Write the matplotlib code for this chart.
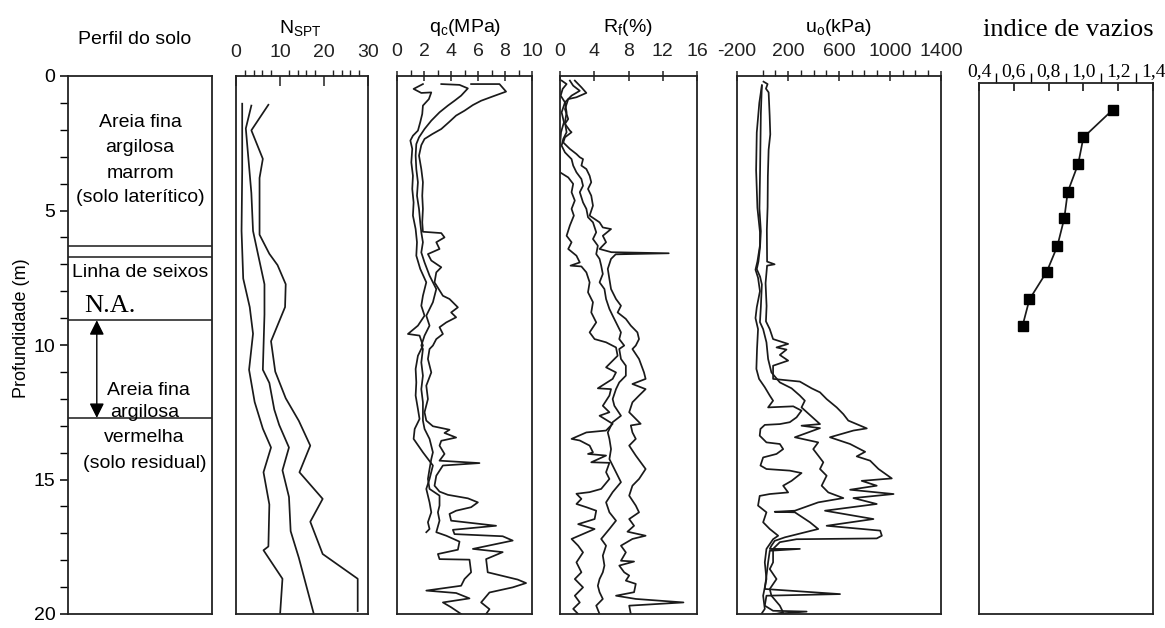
import matplotlib
matplotlib.use('Agg')
import matplotlib.pyplot as plt

plt.rcParams['font.family'] = ['Liberation Sans', 'DejaVu Sans']
plt.rcParams['mathtext.fontset'] = 'custom'
plt.rcParams['mathtext.rm'] = 'Liberation Sans'
plt.rcParams['mathtext.it'] = 'Liberation Sans:italic'
plt.rcParams['mathtext.bf'] = 'Liberation Sans:bold'

# ---------------- data ----------------
# soil profile
layer_depths = [6.33, 6.74, 9.08, 12.71]
wt_arrow = (9.08, 12.71)
upper_lines = ["Areia fina", "argilosa", "marrom", "(solo laterítico)"]
upper_depths = [1.72, 2.67, 3.62, 4.52]
lower_lines = ["Areia fina", "argilosa", "vermelha", "(solo residual)"]
lower_depths = [11.68, 12.5, 13.45, 14.4]

# N_SPT (3 profiles)
nspt1_d = [1.03, 3.50, 5.76, 7.53, 8.59, 9.58, 10.92, 12.12, 13.11, 13.81, 14.73, 15.93, 17.49, 17.63, 18.69, 19.96]
nspt1_v = [1.41, 1.41, 1.26, 1.64, 3.12, 3.87, 2.97, 4.24, 6.10, 7.96, 6.25, 7.58, 7.36, 6.25, 10.56, 10.04]
nspt2_d = [1.10, 1.95, 2.94, 4.35, 5.76, 6.61, 7.74, 8.87, 10.92, 11.41, 12.40, 12.97, 13.81, 14.66, 15.65, 16.92, 17.91, 19.96]
nspt2_v = [3.49, 2.23, 2.75, 3.49, 3.87, 4.98, 6.47, 6.47, 6.10, 7.58, 8.70, 9.81, 12.04, 10.56, 12.04, 12.42, 14.28, 17.62]
nspt3_d = [1.07, 2.02, 3.08, 3.79, 5.90, 6.61, 7.03, 7.74, 8.59, 9.86, 10.99, 11.98, 12.82, 13.74, 14.73, 15.72, 16.57, 17.77, 18.69, 19.89]
nspt3_v = [7.36, 3.49, 6.10, 5.35, 5.35, 7.58, 9.44, 11.30, 11.15, 7.96, 8.92, 11.30, 14.28, 16.88, 14.42, 19.70, 16.88, 19.70, 27.66, 27.66]

# qc (MPa)
qc1_d = [0.30, 0.48, 0.63, 0.61, 0.86, 1.10, 1.41, 1.72, 2.03, 2.22, 2.40, 2.71, 3.21, 3.71, 4.20, 4.70, 5.19, 5.69, 6.18, 6.68,
         7.17, 7.67, 8.17, 8.54, 8.91, 9.28, 9.59, 9.65, 10.02, 10.40, 10.89, 11.39, 11.88, 12.38, 12.75, 13.12, 13.49, 13.99,
         14.48, 14.98, 15.35, 15.85, 16.22, 16.59, 16.84, 16.96]
qc1_v = [1.92, 1.23, 1.80, 2.54, 2.36, 1.92, 1.87, 1.72, 1.55, 1.18, 0.99, 1.13, 1.06, 1.18, 1.13, 1.23, 1.18, 1.38, 1.48, 1.43,
         1.72, 2.17, 1.92, 1.80, 2.04, 1.55, 0.81, 1.67, 1.92, 1.55, 1.38, 1.43, 1.38, 1.55, 1.67, 1.31, 1.23, 1.92,
         2.66, 2.41, 2.17, 2.41, 2.54, 2.29, 2.41, 2.17]
qc2_d = [0.30, 0.33, 0.46, 0.73, 0.92, 1.10, 1.35, 1.66, 1.97, 2.28, 2.53, 2.96, 3.46, 3.95, 4.45, 4.94, 5.44, 5.81, 6.18, 6.56,
         6.93, 7.42, 7.92, 8.41, 8.91, 9.28, 9.65, 10.02, 10.15, 10.65, 11.14, 11.64, 12.13, 12.81, 13.12, 13.49, 13.99, 14.24,
         14.61, 14.98, 15.35, 15.60, 15.97, 16.22, 16.53, 16.96, 17.09, 17.31, 17.61, 17.77, 17.96, 17.98, 18.45, 18.70, 18.95,
         19.13, 19.22, 19.42, 19.57, 19.75, 20.0]
qc2_v = [3.28, 4.63, 5.25, 4.75, 4.26, 3.77, 3.15, 2.54, 2.04, 1.63, 1.43, 1.38, 1.43, 1.55, 1.48, 1.63, 1.72, 1.80, 1.92, 1.80,
         2.04, 2.41, 2.91, 2.66, 2.17, 2.41, 2.04, 1.80, 1.92, 1.80, 1.92, 1.80, 1.92, 1.92, 2.04, 2.41, 2.66, 2.54,
         2.41, 2.29, 2.41, 3.15, 3.15, 3.03, 3.15, 2.91, 3.65, 4.63, 4.51, 3.03, 3.15, 5.37, 5.49, 5.00, 4.75,
         2.17, 4.38, 5.37, 3.40, 4.01, 4.75]
qc3_d = [0.30, 0.30, 0.58, 0.76, 0.92, 1.08, 1.29, 1.47, 1.72, 1.97, 2.16, 2.34, 2.57, 2.96, 3.46, 3.95, 4.45, 4.94, 5.44, 5.79,
         5.84, 6.00, 6.18, 6.43, 6.62, 6.86, 7.11, 7.30, 7.67, 8.17, 8.29, 8.60, 8.79, 8.97, 9.16, 9.34, 9.59, 9.78, 10.02,
         10.15, 10.52, 11.02, 11.51, 12.01, 12.50,
         12.81, 13.02, 13.15, 13.27, 13.44, 13.56, 13.74, 14.05, 14.30, 14.39, 14.48, 14.86, 15.23, 15.45, 15.57, 15.70, 15.85,
         16.03, 16.16, 16.28, 16.53,
         16.72, 16.87, 17.03, 17.11, 17.27, 17.58, 17.70, 17.96, 18.45, 18.72, 18.85, 19.01, 19.20, 19.57, 19.82, 20.0]
qc3_v = [5.49, 7.59, 8.08, 7.09, 6.23, 5.62, 5.00, 4.38, 3.84, 3.28, 2.61, 2.04, 1.80, 1.63, 1.80, 1.92, 1.87, 1.92, 1.87, 1.92,
         3.28, 3.52, 2.91, 3.15, 2.29, 2.54, 3.28, 2.91, 2.78, 3.40, 3.89, 4.51, 4.01, 4.38, 3.65, 3.15, 3.40, 2.91, 2.66,
         2.41, 2.29, 2.54, 2.17, 2.29, 2.04,
         2.17, 2.66, 3.89, 3.52, 4.38, 3.28, 3.15, 3.52, 3.15, 6.11, 3.40, 2.91, 2.78, 3.15, 3.77, 5.25, 5.99,
         5.49, 4.38, 3.89, 4.01,
         7.34, 4.14, 4.26, 7.83, 8.57, 5.62, 7.83, 6.60, 6.72, 8.94, 9.56, 8.57, 6.85, 6.23, 6.85, 6.60]

# Rf (%)
rf1_d = [0.17, 0.30, 0.48, 0.73, 0.98, 1.35, 1.72, 2.09, 2.59, 3.58, 3.77, 4.01, 4.32, 4.63, 4.94, 5.19, 5.56, 5.94, 6.18, 6.43,
         6.68, 6.93, 7.05, 7.08, 7.30, 7.67, 8.04, 8.41, 8.79, 9.16, 9.53, 9.78, 9.90, 10.09, 10.40, 10.83, 11.02, 11.26,
         11.61, 11.64, 11.88, 12.26, 12.50, 12.63, 12.93, 13.18, 13.25, 13.49, 13.55, 13.74, 13.99, 14.05, 14.11, 14.36,
         14.38, 14.73, 14.98, 15.35, 15.47, 15.53, 15.72, 15.91, 16.03, 16.16, 16.47, 16.66, 16.84, 17.21, 17.46, 17.71,
         18.08, 18.45, 18.70, 19.01, 19.32, 19.57, 19.81, 20.0]
rf1_v = [0.19, 0.77, 0.31, 0.08, 0.58, 0.19, 0.46, 0.12, 0.0, 0.0, 0.96, 1.54, 1.35, 1.73, 1.35, 1.62, 1.15, 0.77, 1.35, 0.96,
         1.92, 2.31, 1.23, 2.50, 3.08, 3.46, 3.27, 3.85, 3.65, 4.23, 3.46, 4.04, 5.38, 6.54, 6.73, 5.38, 6.54, 6.15,
         4.42, 5.96, 5.77, 5.00, 5.77, 4.62, 6.15, 5.38, 3.08, 1.35, 2.31, 3.46, 3.85, 3.27, 5.38, 3.65,
         5.77, 5.38, 5.77, 4.81, 3.46, 1.92, 2.50, 1.92, 3.08, 4.23, 4.04, 2.12, 4.04, 1.35, 2.12, 2.69,
         1.92, 2.50, 1.73, 2.69, 1.73, 2.31, 1.54, 2.12]
rf2_d = [0.17, 0.36, 0.55, 0.73, 0.98, 1.35, 1.72, 2.09, 2.34, 2.59, 2.84, 3.09, 3.33, 3.58, 3.83, 4.08, 4.32, 4.70, 4.94, 5.25,
         5.44, 5.81, 6.06, 6.31, 6.62, 6.80, 7.05, 7.36, 7.67, 7.92, 8.29, 8.66, 8.91, 9.16, 9.53, 9.78, 10.02, 10.15, 10.52,
         10.77, 11.14, 11.39, 11.64, 12.01, 12.26, 12.63, 12.87, 13.25, 13.49, 13.87, 14.24, 14.73, 15.10, 15.47, 15.85,
         16.22, 16.53, 16.84, 17.21, 17.46, 17.83, 18.20, 18.45, 18.70, 18.95, 19.19, 19.44, 19.69, 20.0]
rf2_v = [1.15, 1.54, 2.31, 1.35, 0.58, 0.77, 0.58, 0.77, 0.38, 0.19, 0.58, 1.35, 1.54, 1.92, 2.50, 2.69, 2.31, 2.69, 3.08, 3.27,
         3.85, 4.23, 3.85, 4.42, 4.23, 4.62, 4.81, 5.00, 4.62, 5.19, 5.38, 5.77, 6.15, 6.54, 7.12, 6.92, 7.50, 6.92, 7.12,
         7.69, 7.69, 6.92, 6.54, 6.15, 6.35, 7.12, 6.15, 5.58, 5.77, 5.96, 5.77, 6.54, 7.12, 6.15, 5.38,
         5.77, 6.54, 5.77, 4.81, 5.38, 5.00, 5.19, 5.00, 4.62, 4.42, 4.62, 5.00, 4.23, 4.62]
rf3_d = [0.17, 0.42, 0.63, 0.79, 0.86, 1.23, 1.60, 1.78, 2.03, 2.09, 2.28, 2.47, 2.71, 2.90, 3.02, 3.09, 3.33, 3.46, 3.71, 3.95,
         4.20, 4.45, 4.82, 5.19, 5.44, 5.63, 5.69, 5.94, 6.18, 6.43, 6.55, 6.59, 6.63, 6.80, 7.17, 7.55, 7.92, 8.29, 8.54,
         8.79, 9.03, 9.28, 9.53, 9.78, 10.02, 10.15, 10.52, 11.02, 11.26, 11.45, 11.64, 11.88, 12.13, 12.50, 12.93, 12.99,
         13.25, 13.49, 13.74, 14.11, 14.61, 14.98, 15.23, 15.60, 15.97, 16.22, 16.47, 16.72, 16.94, 17.09, 17.21, 17.46,
         17.71, 18.02, 18.05, 18.20, 18.45, 18.57, 18.76, 18.88, 19.19, 19.32, 19.44, 19.57, 19.69, 20.0]
rf3_v = [1.73, 2.50, 3.08, 1.92, 0.96, 0.58, 0.96, 0.58, 1.15, 1.35, 0.58, 0.38, 1.15, 1.92, 2.31, 2.69, 2.50, 3.08, 3.46, 3.65,
         3.27, 3.65, 3.85, 3.46, 4.62, 5.00, 5.96, 5.00, 5.38, 4.62, 6.00, 12.70, 6.50, 5.96, 5.58, 5.77, 5.96, 6.54, 7.12,
         6.73, 7.69, 8.27, 9.04, 9.23, 8.85, 8.46, 9.23, 9.81, 10.00, 8.46, 10.00, 9.23, 8.46, 8.08, 9.42, 8.27,
         8.46, 8.85, 8.08, 8.85, 10.00, 9.23, 8.46, 8.08, 8.85, 9.23, 8.08, 8.65, 7.88, 10.00, 8.46, 7.12,
         7.69, 7.12, 8.65, 6.92, 7.50, 8.08, 7.69, 8.85, 8.65, 6.54, 8.85, 14.42, 8.08, 8.27]

# u0 (kPa)
u01_d = [0.35, 1.0, 2.1, 3.5, 4.9, 5.8, 6.3, 6.9, 7.2, 7.5, 8.0, 8.6, 9.0, 9.41, 10.15, 10.89, 11.26, 11.57, 11.88, 12.07,
         12.32, 12.28, 12.44, 12.69, 12.87, 12.94, 12.97, 13.12, 13.37, 13.62, 13.68, 13.87, 14.05, 14.18, 14.48, 14.61,
         14.67, 14.76, 15.05, 15.23, 15.48, 15.54, 15.61, 15.97, 16.22, 16.59, 16.84, 17.09, 17.22, 17.58, 18.08, 18.70,
         19.32, 19.81, 20.0]
u01_v = [-5, -25, -45, -50, -40, -20, -20, -40, -55, -35, -20, -45, -55, -35, -43, -48, -27, 18, 57, 83,
         44, 241, 306, 267, 214, 136, 18, -16, -22, 31, 136, 162, 110, 5, -16, 31,
         214, 306, 228, 162, 201, 57, -22, -35, 31, 5, 57, 123, 83, 31, 18, 31,
         5, 18, -9]
u02_d = [0.35, 1.41, 3.52, 4.93, 5.77, 6.34, 6.90, 7.18, 7.46, 7.75, 8.59, 9.15, 9.41, 9.90, 10.52, 11.02, 11.39, 11.61, 11.88,
         12.07, 12.32, 12.94, 13.00, 13.09, 13.43, 13.62, 13.87, 14.11, 14.36, 14.61, 14.86, 15.23, 15.48, 15.69, 15.85,
         16.16, 16.20, 16.22, 16.59, 16.84, 17.15, 17.28, 17.46, 17.58, 17.58, 17.65, 18.08, 18.58, 19.07, 19.26, 19.32,
         19.69, 19.88, 19.91, 20.0]
u02_v = [-5, -13, -19, -24, -13, -19, -32, -45, -19, -5, -13, -20, 5, 31, 44, 70, 136, 228, 293,
         332, 306, 451, 306, 451, 254, 437, 398, 437, 477, 451, 503, 464, 516, 634, 437,
         254, 96, 254, 372, 437, 175, 96, 70, 57, 293, 57, 44, 31, 18, 608, 31,
         18, 83, 346, 83]
u03_d = [0.21, 0.30, 0.47, 0.61, 1.46, 2.17, 2.74, 3.73, 4.87, 5.72, 6.90, 7.00, 7.05, 7.70, 8.55, 9.12, 9.41, 9.78, 9.96,
         10.09, 10.17, 10.37, 10.58, 10.77, 11.26, 11.36, 11.61, 11.76, 12.01, 12.32, 12.57, 12.81, 13.10, 13.18, 13.43,
         13.68, 13.97, 14.14, 14.30, 14.61, 14.96, 15.05, 15.23, 15.38, 15.54, 15.69, 15.91, 16.16, 16.47, 16.72, 16.90,
         17.09, 17.19, 17.22, 17.33, 17.58, 18.08, 18.33, 18.70, 19.07, 19.32, 19.69, 19.94, 20.0]
u03_v = [8, 40, 27, 48, 56, 61, 48, 42, 40, 34, 36, 95, 36, 24, 32, 27, 57, 83, 201,
         110, 188, 136, 201, 83, 83, 293, 385, 451, 503, 582, 634, 673, 818, 713, 529,
         687, 805, 739, 844, 910, 1014, 778, 896, 687, 1028, 713, 896, 490, 870, 503, 923,
         936, 896, 267, 136, 83, 83, 57, 110, 57, 70, 136, 162, 110]

# void ratio
e_depth = [1.0, 2.05, 3.05, 4.1, 5.1, 6.15, 7.1, 8.15, 9.15]
e_value = [1.17, 1.0, 0.97, 0.91, 0.89, 0.85, 0.79, 0.69, 0.65]

nspt_ticks = [0, 10, 20, 30]
qc_ticks = [0, 2, 4, 6, 8, 10]
rf_ticks = [0, 4, 8, 12, 16]
u0_ticks = [-200, 200, 600, 1000, 1400]
e_ticks = [0.4, 0.6, 0.8, 1.0, 1.2, 1.4]
e_ticklabels = ["0,4", "0,6", "0,8", "1,0", "1,2", "1,4"]

# ---------------- figure ----------------
W, H = 1165, 628
fig = plt.figure(figsize=(W / 100, H / 100), dpi=100)
LC = '#1a1a1a'
LW = 1.25


def ax_px(x0, x1, y0, y1):
    return fig.add_axes([x0 / W, 1 - y1 / H, (x1 - x0) / W, (y1 - y0) / H])


def frame(ax):
    for s in ax.spines.values():
        s.set_linewidth(1.3)
        s.set_color('#222222')


narrow = ['Liberation Sans Narrow', 'Liberation Sans', 'DejaVu Sans']


def depth_axis(ax, xlim, major, minor, maj_dir='inout', maj_len=7, min_len=4, pad=8):
    ax.set_ylim(20, 0)
    ax.set_xlim(*xlim)
    ax.xaxis.tick_top()
    ax.set_xticks(major)
    ax.set_xticklabels([str(t) for t in major], fontfamily=narrow, fontsize=14)
    if minor is not None:
        ax.set_xticks(minor, minor=True)
    ax.tick_params(axis='x', which='major', direction=maj_dir, length=maj_len, width=1.1, pad=pad, colors='#222222')
    ax.tick_params(axis='x', which='minor', direction='out', length=min_len, width=1.0, colors='#222222')
    ax.set_yticks([])
    frame(ax)


# soil profile panel
ax0 = ax_px(68, 212, 76, 614)
ax0.set_xlim(0, 1)
ax0.set_ylim(20, 0)
ax0.set_xticks([])
ax0.set_yticks([0, 5, 10, 15, 20])
ax0.set_yticks(range(0, 21), minor=True)
ax0.tick_params(axis='y', which='major', direction='out', length=6, width=1.1, labelsize=14, pad=3)
ax0.tick_params(axis='y', which='minor', direction='out', length=6, width=1.0)
frame(ax0)
for d in layer_depths:
    ax0.axhline(d, color=LC, lw=1.1)
for t, d in zip(upper_lines, upper_depths):
    ax0.text(0.5, d, t, ha='center', va='center', fontsize=14)
for i, (t, d) in enumerate(zip(lower_lines, lower_depths)):
    ax0.text(0.56 if i == 0 else 0.53, d, t, ha='center', va='center', fontsize=14)
ax0.text(0.5, 7.3, "Linha de seixos", ha='center', va='center', fontsize=14)
ax0.text(0.29, 8.55, "N.A.", ha='center', va='center', fontsize=19, fontfamily='Liberation Serif')
ax0.annotate('', xy=(0.2, wt_arrow[1]), xytext=(0.2, wt_arrow[0]),
             arrowprops=dict(arrowstyle='<|-|>', color='black', lw=1.0, mutation_scale=22, shrinkA=0, shrinkB=0))
fig.text(22 / W, 1 - 328 / H, "Profundidade (m)", rotation=90, ha='center', va='center', fontsize=13)
fig.text(135 / W, 1 - 40 / H, "Perfil do solo", ha='center', va='center', fontsize=14)

# NSPT
ax1 = ax_px(236, 368, 76, 614)
depth_axis(ax1, (0, 30), nspt_ticks, list(range(2, 30, 2)), maj_dir='in', maj_len=7, pad=11)
for d, v in [(nspt1_d, nspt1_v), (nspt2_d, nspt2_v), (nspt3_d, nspt3_v)]:
    ax1.plot(v, d, color=LC, lw=LW)
fig.text(300 / W, 1 - 28 / H, r"N$_{\mathrm{SPT}}$", ha='center', va='center', fontsize=14)

# qc
ax2 = ax_px(397, 532, 76, 614)
depth_axis(ax2, (0, 10), qc_ticks, list(range(1, 10, 2)))
for d, v in [(qc1_d, qc1_v), (qc2_d, qc2_v), (qc3_d, qc3_v)]:
    ax2.plot(v, d, color=LC, lw=LW)
fig.text(465 / W, 1 - 28 / H, r"q$_{\mathrm{c}}$(MPa)", ha='center', va='center', fontsize=14)

# Rf
ax3 = ax_px(560, 697, 76, 614)
depth_axis(ax3, (0, 16), rf_ticks, None)
for d, v in [(rf1_d, rf1_v), (rf2_d, rf2_v), (rf3_d, rf3_v)]:
    ax3.plot(v, d, color=LC, lw=LW)
fig.text(628 / W, 1 - 28 / H, r"R$_{\mathrm{f}}$(%)", ha='center', va='center', fontsize=14)

# u0
ax4 = ax_px(737, 941, 76, 614)
depth_axis(ax4, (-200, 1400), u0_ticks, [0] + list(range(100, 1400, 100)))
for d, v in [(u01_d, u01_v), (u02_d, u02_v), (u03_d, u03_v)]:
    ax4.plot(v, d, color=LC, lw=LW)
fig.text(838 / W, 1 - 28 / H, r"u$_{\mathrm{o}}$(kPa)", ha='center', va='center', fontsize=14)

# void ratio
ax5 = ax_px(979, 1153, 83, 614)
ax5.set_ylim(20, 0)
ax5.set_xlim(0.4, 1.4)
ax5.xaxis.tick_top()
ax5.set_xticks(e_ticks)
ax5.set_xticklabels(e_ticklabels, fontfamily='Liberation Serif', fontsize=14)
ax5.set_xticks([0.5, 0.7, 0.9, 1.1, 1.3], minor=True)
ax5.tick_params(axis='x', which='major', direction='in', length=6, width=1.1, pad=2)
ax5.tick_params(axis='x', which='minor', direction='out', length=7, width=1.0)
ax5.set_yticks([])
frame(ax5)
ax5.plot(e_value, e_depth, color=LC, lw=LW, marker='s', markersize=7.5, markerfacecolor='black', markeredgecolor='black')
fig.text(1068 / W, 1 - 30 / H, "indice de vazios", ha='center', va='center', fontsize=19, fontfamily='Liberation Serif')

fig.savefig('out.png', dpi=100)
